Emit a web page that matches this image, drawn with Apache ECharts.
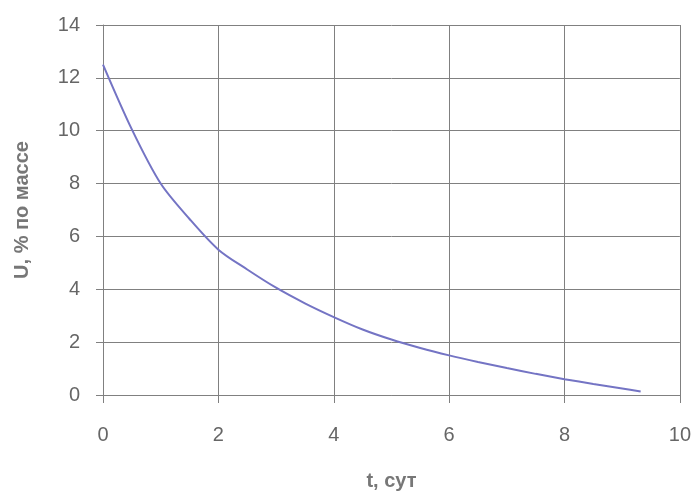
<!DOCTYPE html>
<html><head><meta charset="utf-8">
<script src="https://cdn.jsdelivr.net/npm/echarts@6/dist/echarts.min.js"></script>
<style>html,body{margin:0;padding:0;background:#fff}#c{width:694px;height:496px}</style>
</head><body><div id="c"></div>
<script>
const tValues = [0, 0.5, 1, 1.5, 2, 2.5, 3, 3.5, 4, 4.5, 5, 5.5, 6, 6.5, 7, 7.5, 8, 8.5, 9, 9.32];
const uValues = [12.5, 10.05, 8.0, 6.66, 5.5, 4.75, 4.06, 3.47, 2.95, 2.48, 2.1, 1.78, 1.5, 1.25, 1.02, 0.8, 0.6, 0.42, 0.25, 0.13];
const xTicks = [0, 2, 4, 6, 8, 10];
const yTicks = [0, 2, 4, 6, 8, 10, 12, 14];
const xName = 't, сут';
const yName = 'U, % по массе';

const chart = echarts.init(document.getElementById('c'), null, {renderer: 'canvas'});
const font = 'Arial, "Liberation Sans", sans-serif';
chart.setOption({
  animation: false,
  grid: {left: 103, right: 14, top: 25, bottom: 100, containLabel: false},
  xAxis: {
    type: 'value', min: xTicks[0], max: xTicks[xTicks.length - 1], interval: 2,
    name: xName, nameLocation: 'middle', nameGap: 76,
    nameTextStyle: {fontFamily: font, fontSize: 20, fontWeight: 'bold', color: '#777'},
    axisLine: {show: true, lineStyle: {color: '#808080', width: 1}},
    axisTick: {show: true, length: 8, lineStyle: {color: '#808080'}},
    axisLabel: {fontFamily: font, fontSize: 20, color: '#666', margin: 30},
    splitLine: {show: true, lineStyle: {color: '#808080', width: 1}}
  },
  yAxis: {
    type: 'value', min: yTicks[0], max: yTicks[yTicks.length - 1], interval: 2,
    name: yName, nameLocation: 'middle', nameGap: 71, nameRotate: 90,
    nameTextStyle: {fontFamily: font, fontSize: 20, fontWeight: 'bold', color: '#777'},
    axisLine: {show: true, lineStyle: {color: '#808080', width: 1}},
    axisTick: {show: true, length: 7, lineStyle: {color: '#808080'}},
    axisLabel: {fontFamily: font, fontSize: 20, color: '#666', margin: 23},
    splitLine: {show: true, lineStyle: {color: '#808080', width: 1}}
  },
  series: [{
    type: 'line',
    data: tValues.map((t, i) => [t, uValues[i]]),
    smooth: 0.3,
    showSymbol: false,
    lineStyle: {color: '#7474c4', width: 2}
  }]
});
</script>
</body></html>
